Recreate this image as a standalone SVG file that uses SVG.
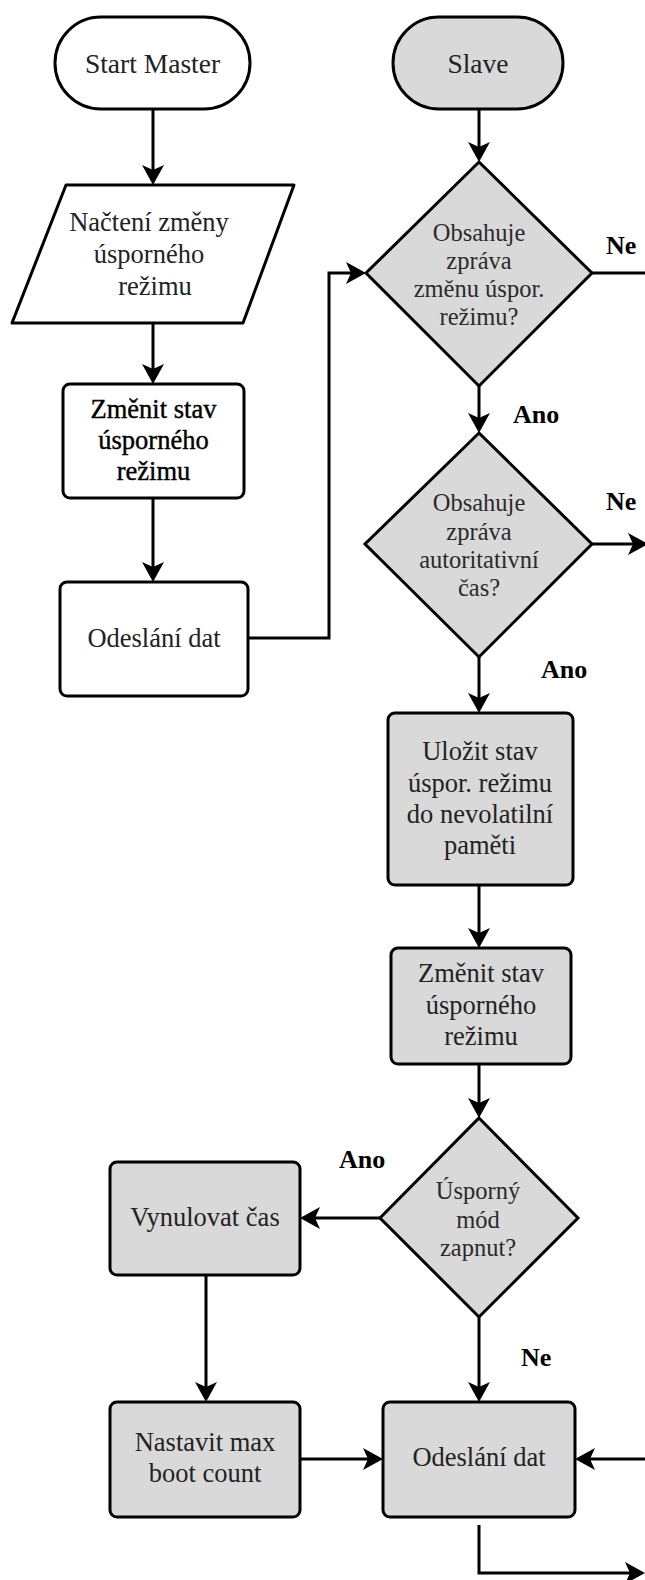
<svg xmlns="http://www.w3.org/2000/svg" width="645" height="1580" viewBox="0 0 645 1580">
<style>
.node{stroke:#000;stroke-width:3;stroke-linejoin:round}
.w{fill:#fff}
.g{fill:#d9d9d9}
.dia{stroke:#000;stroke-width:3;stroke-linejoin:miter;fill:#d9d9d9}
.t{font-family:"Liberation Serif","Times New Roman",serif;font-size:26.5px;fill:#222;text-anchor:middle}
.tp{font-size:27.5px}
.td{font-family:"Liberation Serif","Times New Roman",serif;font-size:24.5px;fill:#2a2a2a;text-anchor:middle}
.dk{fill:#000;stroke:#000;stroke-width:0.4}
.lbl{font-family:"Liberation Serif","Times New Roman",serif;font-size:26px;font-weight:bold;fill:#000}
.edge{fill:none;stroke:#000;stroke-width:3;stroke-linejoin:miter}
.arr{marker-end:url(#ah)}
</style>
<defs>
<marker id="ah" markerUnits="userSpaceOnUse" viewBox="-21 -12 22 24" markerWidth="22" markerHeight="24" refX="-12" refY="0" orient="auto" overflow="visible">
<path d="M0,0 L-20,-11 L-15,0 L-20,11 Z" fill="#000"/>
</marker>
</defs>
<rect width="645" height="1580" fill="#fff"/>

<g id="connectors">
<path class="edge arr" d="M153,109 V173"/>
<path class="edge arr" d="M153,323 V372"/>
<path class="edge arr" d="M153,498 V570"/>
<path class="edge arr" d="M248,638 H329 V273 H354"/>
<path class="edge arr" d="M479,109 V150"/>
<path class="edge" d="M592,273 H645"/>
<path class="edge arr" d="M479,386 V421"/>
<path class="edge arr" d="M592,544 H636"/>
<path class="edge arr" d="M479,657 V701"/>
<path class="edge arr" d="M479,885 V936"/>
<path class="edge arr" d="M479,1064 V1106"/>
<path class="edge arr" d="M380,1218 H312"/>
<path class="edge arr" d="M206,1275 V1390"/>
<path class="edge arr" d="M300,1459 H371"/>
<path class="edge arr" d="M479,1317 V1390"/>
<path class="edge arr" d="M645,1459 H587"/>
<path class="edge arr" d="M479,1525 V1573 H633"/>
<text class="lbl" x="606" y="254">Ne</text>
<text class="lbl" x="513" y="423">Ano</text>
<text class="lbl" x="606" y="510">Ne</text>
<text class="lbl" x="541" y="678">Ano</text>
<text class="lbl" x="339" y="1168">Ano</text>
<text class="lbl" x="521" y="1366">Ne</text>
</g>

<g id="start-master">
<rect class="node w" x="55" y="17" width="195" height="92" rx="46"/>
<text class="t tp" x="152.5" y="72.5">Start Master</text>
</g>

<g id="nacteni">
<path class="node w" d="M66,185 L294,185 L243,323 L12,323 Z"/>
<text class="t" x="149" y="231">Načtení změny</text>
<text class="t" x="149" y="263">úsporného</text>
<text class="t" x="155" y="295">režimu</text>
</g>

<g id="zmenit-master">
<rect class="node w" x="63" y="384" width="181" height="114" rx="7"/>
<text class="t dk" x="153.5" y="418">Změnit stav</text>
<text class="t dk" x="153.5" y="449">úsporného</text>
<text class="t dk" x="153.5" y="480">režimu</text>
</g>

<g id="odeslani-master">
<rect class="node w" x="60" y="582" width="188" height="114" rx="7"/>
<text class="t" x="154" y="647">Odeslání dat</text>
</g>

<g id="slave">
<rect class="node g" x="393" y="17" width="170" height="92" rx="46"/>
<text class="t tp" x="478" y="72.5">Slave</text>
</g>

<g id="dec-zmena">
<path class="dia" d="M479,162 L592,273 L479,386 L366,273 Z"/>
<text class="td" x="479" y="241">Obsahuje</text>
<text class="td" x="479" y="269">zpráva</text>
<text class="td" x="479" y="297">změnu úspor.</text>
<text class="td" x="479" y="325">režimu?</text>
</g>

<g id="dec-cas">
<path class="dia" d="M479,433 L592,544 L479,657 L365,544 Z"/>
<text class="td" x="479" y="511">Obsahuje</text>
<text class="td" x="479" y="540">zpráva</text>
<text class="td" x="479" y="568">autoritativní</text>
<text class="td" x="479" y="596">čas?</text>
</g>

<g id="ulozit">
<rect class="node g" x="388" y="713" width="185" height="172" rx="7"/>
<text class="t" x="480" y="760">Uložit stav</text>
<text class="t" x="480" y="791.5">úspor. režimu</text>
<text class="t" x="480" y="822.5">do nevolatilní</text>
<text class="t" x="480" y="853.5">paměti</text>
</g>

<g id="zmenit-slave">
<rect class="node g" x="391" y="948" width="180" height="116" rx="7"/>
<text class="t" x="481" y="982">Změnit stav</text>
<text class="t" x="481" y="1013.5">úsporného</text>
<text class="t" x="481" y="1045">režimu</text>
</g>

<g id="dec-usporny">
<path class="dia" d="M479,1118 L578,1218 L479,1317 L380,1218 Z"/>
<text class="td" x="478" y="1199">Úsporný</text>
<text class="td" x="478" y="1228">mód</text>
<text class="td" x="478" y="1256">zapnut?</text>
</g>

<g id="vynulovat">
<rect class="node g" x="110" y="1162" width="190" height="113" rx="7"/>
<text class="t" x="205" y="1226">Vynulovat čas</text>
</g>

<g id="nastavit">
<rect class="node g" x="110" y="1402" width="190" height="115" rx="7"/>
<text class="t" x="205" y="1451">Nastavit max</text>
<text class="t" x="205" y="1482">boot count</text>
</g>

<g id="odeslani-slave">
<rect class="node g" x="383" y="1402" width="192" height="115" rx="7"/>
<text class="t" x="479" y="1466">Odeslání dat</text>
</g>
</svg>
